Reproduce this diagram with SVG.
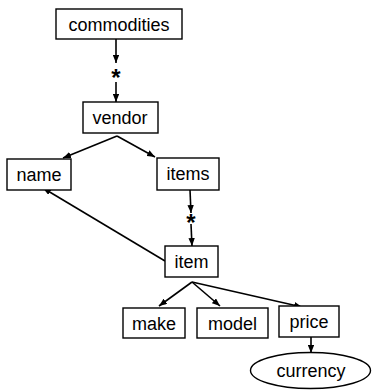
<svg xmlns="http://www.w3.org/2000/svg" width="372" height="392" viewBox="0 0 372 392">
  <defs>
    <marker id="arrow" viewBox="0 0 10 8" refX="10" refY="4" markerWidth="8" markerHeight="6.4" markerUnits="userSpaceOnUse" orient="auto">
      <path d="M0,0 L10,4 L0,8 Z" fill="#000"/>
    </marker>
  </defs>
  <style>
    .box { fill: #fff; stroke: #000; stroke-width: 1.4; }
    .lbl { font-family: "Liberation Sans", Arial, sans-serif; font-size: 18px; fill: #000; text-anchor: middle; }
    .star { font-family: "Liberation Sans", Arial, sans-serif; font-size: 24px; font-weight: bold; fill: #000; text-anchor: middle; }
    .edge { fill: none; stroke: #000; stroke-width: 1.6; marker-end: url(#arrow); }
  </style>
  <rect width="372" height="392" fill="#fff"/>

  <g id="connectors">
    <line class="edge" x1="116" y1="39" x2="116" y2="63"/>
    <text class="star" x="116" y="86">*</text>
    <line class="edge" x1="116" y1="82" x2="116" y2="102"/>
    <line class="edge" x1="117" y1="136" x2="63" y2="158"/>
    <line class="edge" x1="117" y1="136" x2="155" y2="157"/>
    <line class="edge" x1="190" y1="190" x2="191" y2="213"/>
    <text class="star" x="191" y="231">*</text>
    <line class="edge" x1="191" y1="224" x2="192" y2="246"/>
    <line class="edge" x1="165" y1="261" x2="43" y2="188"/>
    <line class="edge" x1="192" y1="282" x2="159" y2="306"/>
    <line class="edge" x1="192" y1="282" x2="220" y2="306"/>
    <line class="edge" x1="192" y1="282" x2="302" y2="307"/>
    <line class="edge" x1="311" y1="337" x2="311" y2="353"/>
  </g>

  <g id="commodities">
    <rect class="box" x="56" y="9" width="126" height="30"/>
    <text class="lbl" x="119" y="31">commodities</text>
  </g>
  <g id="vendor">
    <rect class="box" x="83" y="102" width="75" height="31"/>
    <text class="lbl" x="120" y="124">vendor</text>
  </g>
  <g id="name">
    <rect class="box" x="7" y="159" width="64" height="31"/>
    <text class="lbl" x="39" y="181">name</text>
  </g>
  <g id="items">
    <rect class="box" x="157" y="158" width="62" height="32"/>
    <text class="lbl" x="188" y="180">items</text>
  </g>
  <g id="item">
    <rect class="box" x="165" y="246" width="53" height="31"/>
    <text class="lbl" x="191.5" y="268">item</text>
  </g>
  <g id="make">
    <rect class="box" x="123" y="308" width="62" height="30"/>
    <text class="lbl" x="154" y="330">make</text>
  </g>
  <g id="model">
    <rect class="box" x="197" y="308" width="71" height="30"/>
    <text class="lbl" x="232.5" y="330">model</text>
  </g>
  <g id="price">
    <rect class="box" x="279" y="306" width="60" height="31"/>
    <text class="lbl" x="309" y="328">price</text>
  </g>
  <g id="currency">
    <ellipse class="box" cx="310.5" cy="370.5" rx="60" ry="18"/>
    <text class="lbl" x="311" y="377">currency</text>
  </g>
</svg>
